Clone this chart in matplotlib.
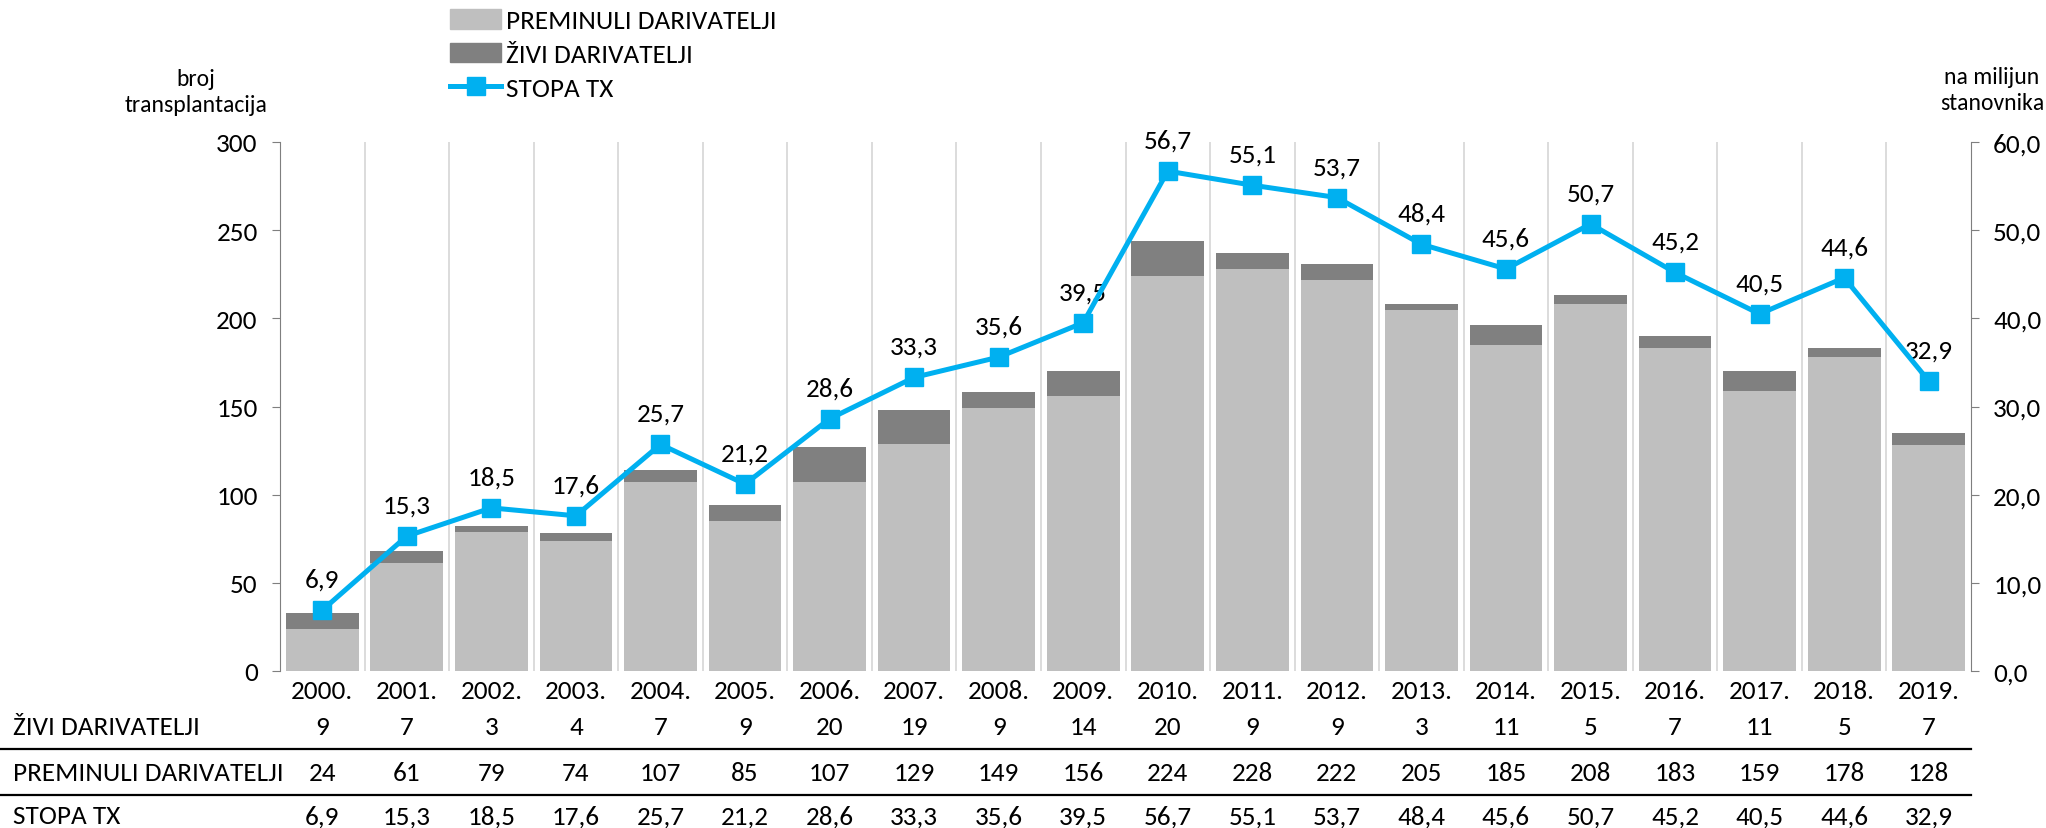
import matplotlib
matplotlib.use("Agg")
import matplotlib.pyplot as plt
from matplotlib.patches import Patch
from matplotlib.lines import Line2D
from matplotlib.ticker import FuncFormatter
import matplotlib.transforms as mtransforms

plt.rcParams["font.family"] = ["Carlito", "Archivo Narrow", "DejaVu Sans"]

years = ["2000.", "2001.", "2002.", "2003.", "2004.", "2005.", "2006.", "2007.", "2008.", "2009.",
         "2010.", "2011.", "2012.", "2013.", "2014.", "2015.", "2016.", "2017.", "2018.", "2019."]
zivi = [9, 7, 3, 4, 7, 9, 20, 19, 9, 14, 20, 9, 9, 3, 11, 5, 7, 11, 5, 7]
preminuli = [24, 61, 79, 74, 107, 85, 107, 129, 149, 156, 224, 228, 222, 205, 185, 208, 183, 159, 178, 128]
stopa = [6.9, 15.3, 18.5, 17.6, 25.7, 21.2, 28.6, 33.3, 35.6, 39.5, 56.7, 55.1, 53.7, 48.4, 45.6, 50.7,
         45.2, 40.5, 44.6, 32.9]

W, H = 2046, 829
LIGHT = "#BFBFBF"
DARK = "#808080"
BLUE = "#00B0F0"
FS = 19.5


def fx(x):
    return x / W


def fy(y):
    return 1 - y / H


def comma(v):
    return f"{v:.1f}".replace(".", ",")


fig = plt.figure(figsize=(W / 100, H / 100), dpi=100)
ax = fig.add_axes([fx(280), fy(672), fx(1971) - fx(280), fy(143) - fy(672)])
x = list(range(len(years)))

ax.bar(x, preminuli, width=0.86, color=LIGHT, zorder=2)
ax.bar(x, zivi, width=0.86, bottom=preminuli, color=DARK, zorder=2)
for b in range(len(years) - 1):
    ax.axvline(b + 0.5, color="#D9D9D9", lw=1.3, zorder=1)

ax.set_xlim(-0.5, len(years) - 0.5)
ax.set_ylim(0, 300)
ax.set_yticks(range(0, 301, 50))
ax.set_xticks(x)
ax.set_xticklabels(years, fontsize=FS)
ax.tick_params(axis="x", length=0, pad=6)
ax.tick_params(axis="y", labelsize=FS, length=6, color="#7F7F7F", pad=10)
for s in ["top", "right", "bottom"]:
    ax.spines[s].set_visible(False)
ax.spines["left"].set_color("#7F7F7F")

ax2 = ax.twinx()
ax2.plot(x, stopa, color=BLUE, lw=3.6, marker="s", markersize=12.5, zorder=4)
ax2.set_ylim(0, 60)
ax2.set_yticks(range(0, 61, 10))
ax2.yaxis.set_major_formatter(FuncFormatter(lambda v, p: comma(v)))
ax2.tick_params(axis="y", labelsize=FS, length=6, color="#7F7F7F", pad=10)
for s in ["top", "left", "bottom"]:
    ax2.spines[s].set_visible(False)
ax2.spines["right"].set_color("#7F7F7F")
for xi, v in zip(x, stopa):
    ax2.annotate(comma(v), (xi, v), xytext=(0, 14), textcoords="offset points",
                 ha="center", va="bottom", fontsize=FS)

# data table below the chart
trans = mtransforms.blended_transform_factory(ax.transData, fig.transFigure)
rows = [("ŽIVI DARIVATELJI", [str(v) for v in zivi], 728),
        ("PREMINULI DARIVATELJI", [str(v) for v in preminuli], 774),
        ("STOPA TX", [comma(v) for v in stopa], 817)]
for label, vals, yy in rows:
    fig.text(fx(13), fy(yy), label, fontsize=FS, va="center", ha="left")
    for xi, t in zip(x, vals):
        ax.text(xi, fy(yy), t, transform=trans, fontsize=FS, va="center", ha="center", clip_on=False)
for yy in [750, 796]:
    fig.add_artist(Line2D([0, fx(1971)], [fy(yy), fy(yy)], color="black", lw=1.6))

fig.text(fx(196), fy(80), "broj", fontsize=17, ha="center", va="center")
fig.text(fx(196), fy(106), "transplantacija", fontsize=17, ha="center", va="center")
fig.text(fx(1992), fy(78), "na milijun", fontsize=17, ha="center", va="center")
fig.text(fx(1992), fy(104), "stanovnika", fontsize=17, ha="center", va="center")

handles = [Patch(color=LIGHT), Patch(color=DARK),
           Line2D([], [], color=BLUE, lw=3.6, marker="s", markersize=12.5)]
fig.legend(handles, ["PREMINULI DARIVATELJI", "ŽIVI DARIVATELJI", "STOPA TX"],
           loc="upper left", bbox_to_anchor=(fx(450), fy(10)), frameon=False, fontsize=FS,
           handlelength=1.9, handleheight=0.75, handletextpad=0.15, labelspacing=0.38,
           borderaxespad=0, borderpad=0)

fig.savefig("out.png", dpi=100)
